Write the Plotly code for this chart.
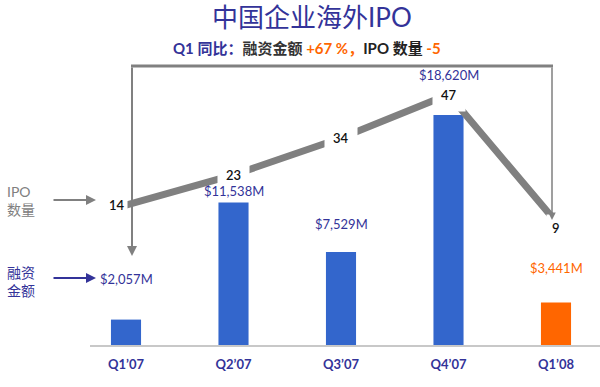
import plotly.graph_objects as go

# ---- data ----
quarters = ["Q1’07", "Q2’07", "Q3’07", "Q4’07", "Q1’08"]
funds_musd = [2057, 11538, 7529, 18620, 3441]
ipo_counts = [14, 23, 34, 47, 9]

# ---- style ----
BLUE = "#3366CC"
ORANGE = "#FF6600"
NAVY = "#333399"
GRAY = "#808080"
FONT = "Lato, 'Noto Sans CJK SC', sans-serif"
bar_colors = [BLUE, BLUE, BLUE, BLUE, ORANGE]
label_colors = [NAVY, NAVY, NAVY, NAVY, ORANGE]
label_lift = [31, 1, 18, 30, 25]

W, H = 600, 387
L, R, T, B = 90, 0, 40, 42
PW, PH = W - L - R, H - T - B


def xp(px):
    return (px - L) / PW


def yp(py):
    return (H - B - py) / PH


fig = go.Figure()
fig.add_trace(go.Bar(
    x=quarters, y=funds_musd, marker=dict(color=bar_colors, line=dict(width=0)),
    width=0.28, hoverinfo="x+y", showlegend=False,
))
fig.add_trace(go.Scatter(
    x=quarters, y=ipo_counts, yaxis="y2", mode="lines",
    line=dict(color=GRAY, width=7), showlegend=False,
))

ann = []
# IPO count labels (white boxes break the line)
for i, (q, n) in enumerate(zip(quarters, ipo_counts)):
    a = dict(x=q, y=n, xref="x", yref="y2", text=str(n), showarrow=False,
             bgcolor="white", borderpad=8,
             font=dict(family=FONT, size=13, color="#111111", weight=600))
    if i == 0:
        a.update(xanchor="right", xshift=2, borderpad=2)
    if i == len(ipo_counts) - 1:
        a.update(yshift=-6, borderpad=5)
    ann.append(a)
# bar value labels
for q, v, c, lift in zip(quarters, funds_musd, label_colors, label_lift):
    ann.append(dict(x=q, y=v, xref="x", yref="y", text=f"${v:,}M",
                    showarrow=False, yanchor="bottom", yshift=lift,
                    font=dict(family=FONT, size=13, color=c)))

# title + subtitle
ann.append(dict(x=xp(312), y=yp(17), xref="paper", yref="paper", showarrow=False,
                yanchor="middle", text="中国企业海外IPO",
                font=dict(family=FONT, size=26, color=NAVY)))
sub = (f"<span style='color:{NAVY}'>Q1 同比：</span>"
       f"<span style='color:#333333'>融资金额 </span>"
       f"<span style='color:{ORANGE}'>+67 %，</span>"
       f"<span style='color:#222222'>IPO 数量 </span>"
       f"<span style='color:{ORANGE}'>-5</span>")
ann.append(dict(x=xp(307), y=yp(48), xref="paper", yref="paper", showarrow=False,
                yanchor="middle", text=sub,
                font=dict(family=FONT, size=15, weight="bold")))

# left legend labels
ann.append(dict(x=xp(5), y=yp(200), xref="paper", yref="paper", showarrow=False,
                xanchor="left", yanchor="middle", align="left", text="IPO<br>数量",
                font=dict(family=FONT, size=14, color=GRAY)))
ann.append(dict(x=xp(5), y=yp(281), xref="paper", yref="paper", showarrow=False,
                xanchor="left", yanchor="middle", align="left", text="融资<br>金额",
                font=dict(family=FONT, size=14, color=NAVY)))
# legend arrows
ann.append(dict(x=xp(96), y=yp(200), xref="paper", yref="paper", text="",
                showarrow=True, ax=-44, ay=0, arrowhead=2, arrowsize=1,
                arrowwidth=2, arrowcolor=GRAY))
ann.append(dict(x=xp(96), y=yp(278), xref="paper", yref="paper", text="",
                showarrow=True, ax=-44, ay=0, arrowhead=2, arrowsize=1,
                arrowwidth=2, arrowcolor=NAVY))
# bracket arrows
ann.append(dict(x=xp(132), y=yp(256), xref="paper", yref="paper", text="",
                showarrow=True, ax=0, ay=-190, arrowhead=2, arrowsize=1,
                arrowwidth=2, arrowcolor=GRAY))
ann.append(dict(x=xp(552), y=yp(220), xref="paper", yref="paper", text="",
                showarrow=True, ax=0, ay=-154, arrowhead=2, arrowsize=1,
                arrowwidth=1.5, arrowcolor=GRAY))

shapes = [dict(type="line", xref="paper", yref="paper",
               x0=xp(131), x1=xp(553), y0=yp(66), y1=yp(66),
               line=dict(color=GRAY, width=3))]

fig.update_layout(
    width=W, height=H, margin=dict(l=L, r=R, t=T, b=B),
    plot_bgcolor="white", paper_bgcolor="white",
    annotations=ann, shapes=shapes, showlegend=False,
    xaxis=dict(type="category", range=[-(126 - L) / 107.5, (W - R - 126) / 107.5],
               showgrid=False, zeroline=False, showline=True,
               linecolor="#C8C8C8", linewidth=1.5, ticks="",
               ticklabelstandoff=7,
               tickfont=dict(family=FONT, size=13, color=NAVY, weight="bold")),
    yaxis=dict(range=[0, 24692], visible=False, showgrid=False),
    yaxis2=dict(range=[-27.76, 63.28], overlaying="y", side="right",
                visible=False, showgrid=False),
)

fig.write_html("out.html", config={"displayModeBar": False},
               post_script="document.body.style.margin='0';")
